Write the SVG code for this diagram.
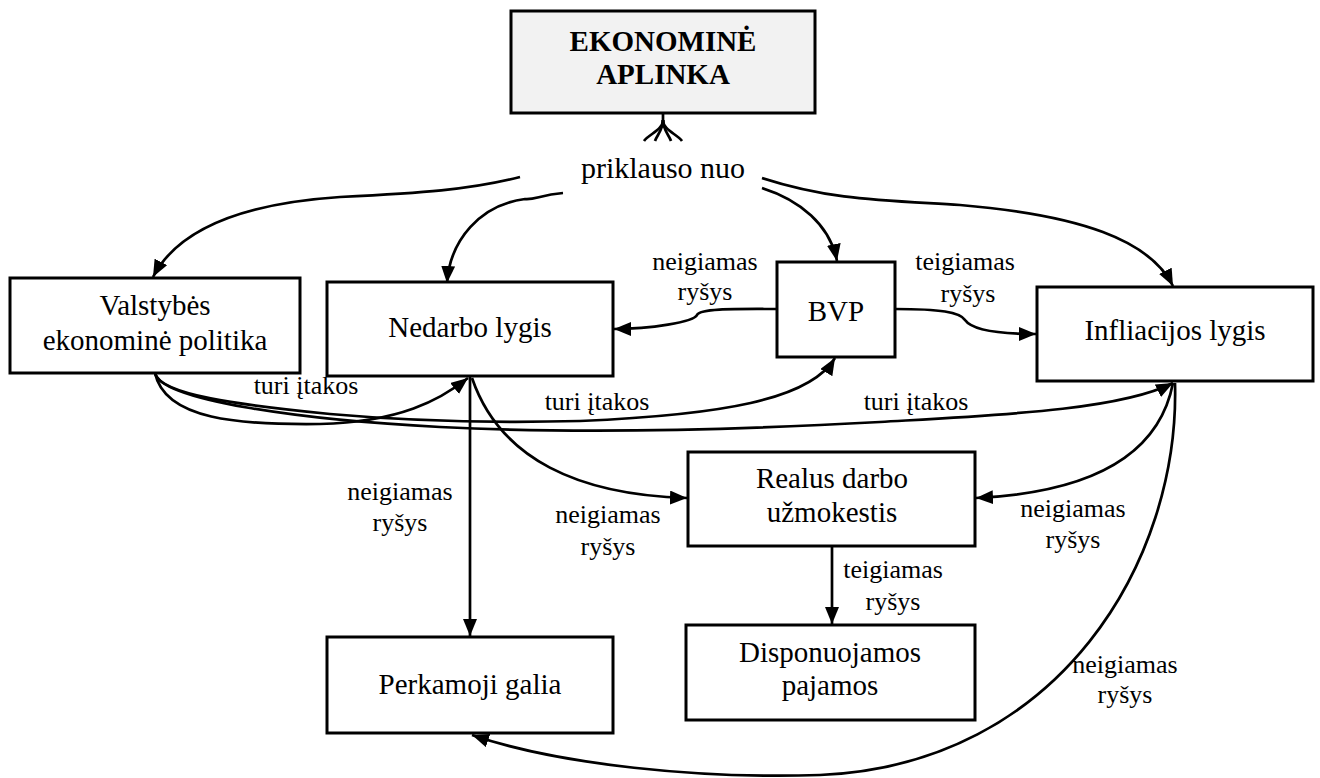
<svg xmlns="http://www.w3.org/2000/svg" width="1320" height="778" viewBox="0 0 1320 778">
<defs>
<marker id="ah" markerUnits="userSpaceOnUse" markerWidth="18" markerHeight="14" refX="17" refY="7" orient="auto">
<path d="M0,0 L17,7 L0,14 z" fill="#000"/>
</marker>
<style>
.box{fill:#fff;stroke:#000;stroke-width:3}
.top{fill:#f2f2f2;stroke:#000;stroke-width:3}
.t{font-family:"Liberation Serif","Times New Roman",serif;font-size:29px;text-anchor:middle;fill:#000}
.b{font-weight:bold}
.l{font-family:"Liberation Serif","Times New Roman",serif;font-size:26px;text-anchor:middle;fill:#000}
.c{fill:none;stroke:#000;stroke-width:2.7}
.a{marker-end:url(#ah)}
</style>
</defs>
<rect width="1320" height="778" fill="#fff"/>

<g id="connectors">
<path class="c" d="M663,113 L663,120 C663,130 649,134 644,141"/>
<path class="c" d="M663,120 C663,130 657,135 655,141"/>
<path class="c" d="M663,120 C663,130 669,135 671,141"/>
<path class="c" d="M663,120 C663,130 677,134 682,141"/>
<path class="c a" d="M520,177 C470,190 420,193 340,197 C250,203 180,225 153,277"/>
<path class="c a" d="M563,193 C540,195 535,200 525,199 C480,205 450,240 447,283"/>
<path class="c a" d="M762,188 C800,200 830,225 837,261"/>
<path class="c a" d="M762,178 C830,200 880,200 960,205 C1080,215 1150,240 1173,286"/>
<path class="c a" d="M777,309 C740,309 700,308 697,315 C694,322 650,329 614,329"/>
<path class="c a" d="M895,309 C940,309 960,312 965,320 C972,330 1000,334 1036,334"/>
<path class="c a" d="M155,373 C165,420 240,425 320,424 C400,422 440,400 468,378"/>
<path class="c a" d="M155,373 C160,395 240,405 330,414 C420,422 500,423 580,421 C720,415 810,400 835,358"/>
<path class="c a" d="M155,373 C160,400 300,420 440,427 C560,433 700,432 880,422 C1000,415 1120,410 1173,383"/>
<path class="c a" d="M470,376 L470,636"/>
<path class="c a" d="M472,378 C500,460 580,495 687,498"/>
<path class="c a" d="M1173,383 C1160,450 1100,492 976,498"/>
<path class="c a" d="M832,546 L832,624"/>
<path class="c a" d="M1175,383 C1180,560 1060,765 820,775 C700,779 560,765 472,735"/>
</g>

<g id="labels">
<text class="t" x="663" y="178" style="font-size:30px">priklauso nuo</text>
<text class="l" x="705" y="270">neigiamas</text>
<text class="l" x="705" y="300">ryšys</text>
<text class="l" x="965" y="270">teigiamas</text>
<text class="l" x="968" y="302">ryšys</text>
<text class="l" x="306" y="394">turi įtakos</text>
<text class="l" x="597" y="410">turi įtakos</text>
<text class="l" x="916" y="410">turi įtakos</text>
<text class="l" x="400" y="500">neigiamas</text>
<text class="l" x="400" y="531">ryšys</text>
<text class="l" x="608" y="523">neigiamas</text>
<text class="l" x="608" y="555">ryšys</text>
<text class="l" x="1073" y="517">neigiamas</text>
<text class="l" x="1073" y="548">ryšys</text>
<text class="l" x="893" y="578">teigiamas</text>
<text class="l" x="893" y="610">ryšys</text>
<text class="l" x="1125" y="673">neigiamas</text>
<text class="l" x="1125" y="703">ryšys</text>
</g>

<g id="ekonomine-aplinka">
<rect class="top" x="511" y="11" width="304" height="102"/>
<text class="t b" x="663" y="51">EKONOMINĖ</text>
<text class="t b" x="663" y="84">APLINKA</text>
</g>
<g id="valstybes">
<rect class="box" x="10" y="278" width="290" height="95"/>
<text class="t" x="155" y="315">Valstybės</text>
<text class="t" x="155" y="350">ekonominė politika</text>
</g>
<g id="nedarbo">
<rect class="box" x="327" y="282" width="286" height="94"/>
<text class="t" x="470" y="337">Nedarbo lygis</text>
</g>
<g id="bvp">
<rect class="box" x="777" y="262" width="118" height="95"/>
<text class="t" x="836" y="321">BVP</text>
</g>
<g id="infliacijos">
<rect class="box" x="1037" y="287" width="276" height="94"/>
<text class="t" x="1175" y="340">Infliacijos lygis</text>
</g>
<g id="realus">
<rect class="box" x="688" y="452" width="287" height="94"/>
<text class="t" x="832" y="488">Realus darbo</text>
<text class="t" x="832" y="522">užmokestis</text>
</g>
<g id="perkamoji">
<rect class="box" x="327" y="637" width="286" height="96"/>
<text class="t" x="470" y="694">Perkamoji galia</text>
</g>
<g id="disponuojamos">
<rect class="box" x="686" y="625" width="289" height="95"/>
<text class="t" x="830" y="662">Disponuojamos</text>
<text class="t" x="830" y="695">pajamos</text>
</g>
</svg>
